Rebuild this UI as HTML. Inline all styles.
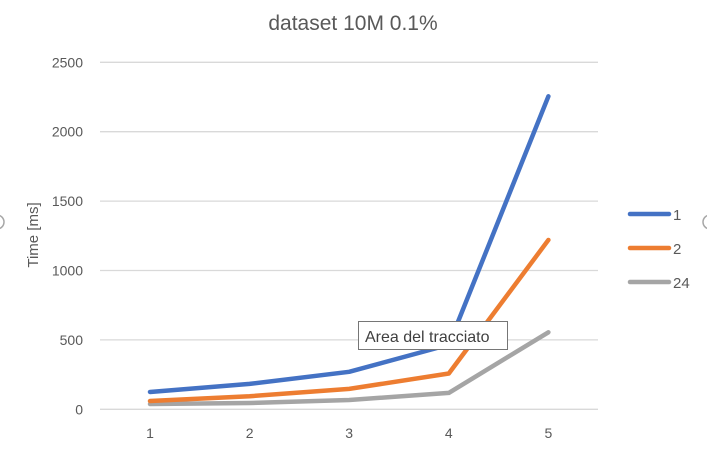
<!DOCTYPE html>
<html><head><meta charset="utf-8"><style>
body{margin:0;background:#fff;font-family:"Liberation Sans",sans-serif;}
#wrap{position:relative;width:707px;height:449px;overflow:hidden;}
</style></head><body>
<div id="wrap">
<svg id="svg" width="707" height="449" xmlns="http://www.w3.org/2000/svg">
<text x="353" y="30" text-anchor="middle" font-size="21" fill="#595959">dataset 10M 0.1%</text>
<text transform="translate(38,235) rotate(-90)" text-anchor="middle" font-size="15" fill="#595959">Time [ms]</text>
<g id="grid"></g><g id="ylab"></g><g id="xlab"></g><g id="lines"></g>
<g id="legend"></g>
<circle cx="-3" cy="222" r="7" fill="#fff" stroke="#a6a6a6" stroke-width="1.5"/>
<circle cx="710" cy="222" r="7" fill="#fff" stroke="#a6a6a6" stroke-width="1.5"/>
<g>
<rect x="358.5" y="321.5" width="149" height="28" fill="#fff" stroke="#767676"/>
<text x="365" y="342" font-size="16" fill="#404040">Area del tracciato</text>
</g>
</svg>
</div>
<script>
const categories=["1","2","3","4","5"];
const yTicks=[0,500,1000,1500,2000,2500];
const series1=[125,183,270,465,2255];
const series2=[60,94,147,258,1220];
const series24=[38,45,67,118,555];
const seriesNames=["1","2","24"];
const colors=["#4472c4","#ed7d31","#a5a5a5"];
const NS="http://www.w3.org/2000/svg";
function X(i){return 150+i*99.6;}
function Y(v){return 409.3-v*(347/2500);}
function mk(t,a,p){const e=document.createElementNS(NS,t);for(const k in a)e.setAttribute(k,a[k]);p.appendChild(e);return e;}
const grid=document.getElementById('grid'),ylab=document.getElementById('ylab'),xlab=document.getElementById('xlab'),lines=document.getElementById('lines'),legend=document.getElementById('legend');
yTicks.forEach(v=>{
 const l=mk('line',{x1:100,x2:598,y1:Y(v),y2:Y(v),stroke:'#d9d9d9','stroke-width':1.3},grid);
 
 
 const t=mk('text',{x:83,y:Y(v)+5,'text-anchor':'end','font-size':14,fill:'#595959'},ylab);
 t.textContent=v;
 
 
});
categories.forEach((c,i)=>{
 const t=mk('text',{x:X(i),y:438,'text-anchor':'middle','font-size':14,fill:'#595959'},xlab);
 t.textContent=c;
 
 
});
[series24,series2,series1].forEach((s,k)=>{
 const idx=2-k;
 const p=mk('polyline',{points:s.map((v,i)=>X(i)+','+Y(v)).join(' '),fill:'none',stroke:colors[idx],'stroke-width':4.5,'stroke-linejoin':'round','stroke-linecap':'round'},lines);
 
 
});
seriesNames.forEach((n,i)=>{
 const y=214+i*34;
 const g=mk('g',{},legend);
 
 
 mk('line',{x1:630,x2:669,y1:y,y2:y,stroke:colors[i],'stroke-width':4.5,'stroke-linecap':'round'},g);
 const t=mk('text',{x:673,y:y+6,'font-size':15,fill:'#595959'},g);
 t.textContent=n;
});
</script>
</body></html>
